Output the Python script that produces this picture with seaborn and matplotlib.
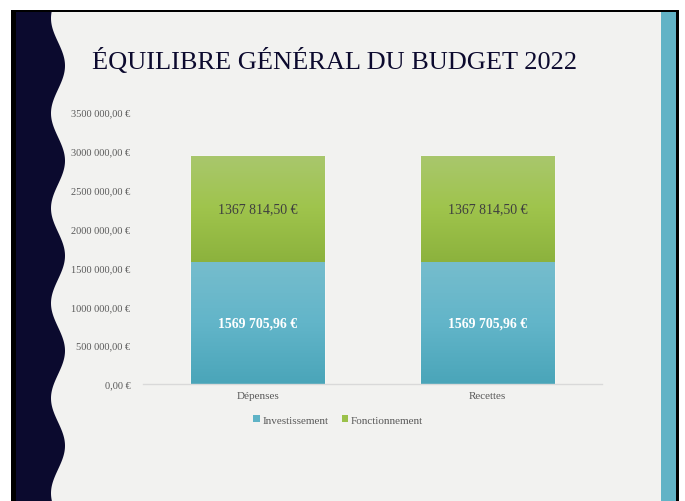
import numpy as np
import pandas as pd
import matplotlib
matplotlib.use("Agg")
import matplotlib.pyplot as plt
from matplotlib.patches import Patch, Rectangle, Polygon
from matplotlib.colors import LinearSegmentedColormap
import seaborn as sns

# ---- data ----
categories = ["Dépenses", "Recettes"]
investissement = [1569705.96, 1569705.96]
fonctionnement = [1367814.50, 1367814.50]
series_names = ["Investissement", "Fonctionnement"]
title = "ÉQUILIBRE GÉNÉRAL DU BUDGET 2022"
yticks = [0, 500000, 1000000, 1500000, 2000000, 2500000, 3000000, 3500000]

def fmt_eur(v):
    s = f"{v:.2f}"
    ent, dec = s.split(".")
    if len(ent) > 3:
        ent = ent[:-3] + " " + ent[-3:]
    return ent + "," + dec + " €"

sns.set_theme(style="white")
plt.rcParams['font.family'] = ['Liberation Serif', 'DejaVu Serif']

W, H = 685, 502
fig = plt.figure(figsize=(W / 100, H / 100), dpi=100)
fig.patch.set_facecolor("white")

# ---- slide background (pixel coords) ----
bg = fig.add_axes([0, 0, 1, 1])
bg.set_xlim(0, W)
bg.set_ylim(H, 0)
bg.axis("off")
bg.add_patch(Rectangle((11, 11), 668, 491, facecolor="black", edgecolor="none"))
bg.add_patch(Rectangle((16, 13), 660, 489, facecolor="#f2f2f0", edgecolor="none"))
bg.add_patch(Rectangle((661, 13), 15, 489, facecolor="#62b3c6", edgecolor="none"))
ys = np.linspace(13, H, 400)
xs = 58 + 7 * np.sin(2 * np.pi * (ys - 138) / 95)
poly = np.vstack([[16, 13]] + [np.column_stack([xs, ys])] + [[[16, H]]])
bg.add_patch(Polygon(poly, closed=True, facecolor="#0b0a2e", edgecolor="none"))
bg.text(335, 61, title, ha="center", va="center", fontsize=19,
        color="#0c0a2e", family=['Liberation Serif', 'DejaVu Serif'])

# ---- chart ----
ax = fig.add_axes([143 / W, 117 / H, 459 / W, 272 / H])
ax.set_facecolor("none")
df = pd.DataFrame({"cat": categories,
                   "inv": investissement,
                   "fonc": fonctionnement})
df["total"] = df["inv"] + df["fonc"]

green_top, green_bot = "#a9c76d", "#8cb23d"
blue_top, blue_bot = "#76bdcd", "#4aa5b9"

sns.barplot(data=df, x="cat", y="total", color=green_bot, width=0.58,
            saturation=1, ax=ax)
sns.barplot(data=df, x="cat", y="inv", color=blue_bot, width=0.58,
            saturation=1, ax=ax)

cm_g = LinearSegmentedColormap.from_list("g", [green_bot, "#9fc44c", green_top])
cm_b = LinearSegmentedColormap.from_list("b", [blue_bot, "#62b5c9", blue_top])

n = len(categories)
patches = list(ax.patches)
for i, p in enumerate(patches):
    x0, y0 = p.get_x(), p.get_y()
    w, h = p.get_width(), p.get_height()
    if i < n:
        bottom = investissement[i]
        cm = cm_g
    else:
        bottom = y0
        cm = cm_b
    top = y0 + h
    grad = np.linspace(0, 1, 256).reshape(-1, 1)
    im = ax.imshow(grad, extent=[x0, x0 + w, bottom, top], origin="lower",
                   cmap=cm, aspect="auto", zorder=p.get_zorder() + 0.1 + (i >= n))
    clip = Rectangle((x0, bottom), w, top - bottom, transform=ax.transData)
    im.set_clip_path(clip)

for i in range(n):
    ax.text(i, investissement[i] / 2, fmt_eur(investissement[i]), ha="center",
            va="center", color="white", fontsize=10, fontweight="bold", zorder=10)
    ax.text(i, investissement[i] + fonctionnement[i] / 2, fmt_eur(fonctionnement[i]),
            ha="center", va="center", color="#3f3f3f", fontsize=10, zorder=10)

ax.set_xlim(-0.5, 1.5)
ax.set_ylim(0, 3500000)
ax.set_yticks(yticks)
ax.set_yticklabels([fmt_eur(v) for v in yticks])
ax.tick_params(axis="y", length=0, pad=9, labelsize=7.5, labelcolor="#595959")
ax.tick_params(axis="x", length=0, pad=5, labelsize=8, labelcolor="#595959")
ax.set_xlabel("")
ax.set_ylabel("")
for s in ["top", "right", "left"]:
    ax.spines[s].set_visible(False)
ax.spines["bottom"].set_color("#d9d9d9")
ax.spines["bottom"].set_linewidth(1)
ax.grid(False)

handles = [Patch(facecolor="#5fb3c6", edgecolor="none"),
           Patch(facecolor="#9bc14a", edgecolor="none")]
fig.legend(handles, series_names, loc="center", bbox_to_anchor=(338 / W, 1 - 421 / H),
           ncol=2, frameon=False, fontsize=8, handlelength=0.6, handleheight=0.6,
           handletextpad=0.2, columnspacing=1.2, labelcolor="#595959")

fig.savefig("out.png", dpi=100)
